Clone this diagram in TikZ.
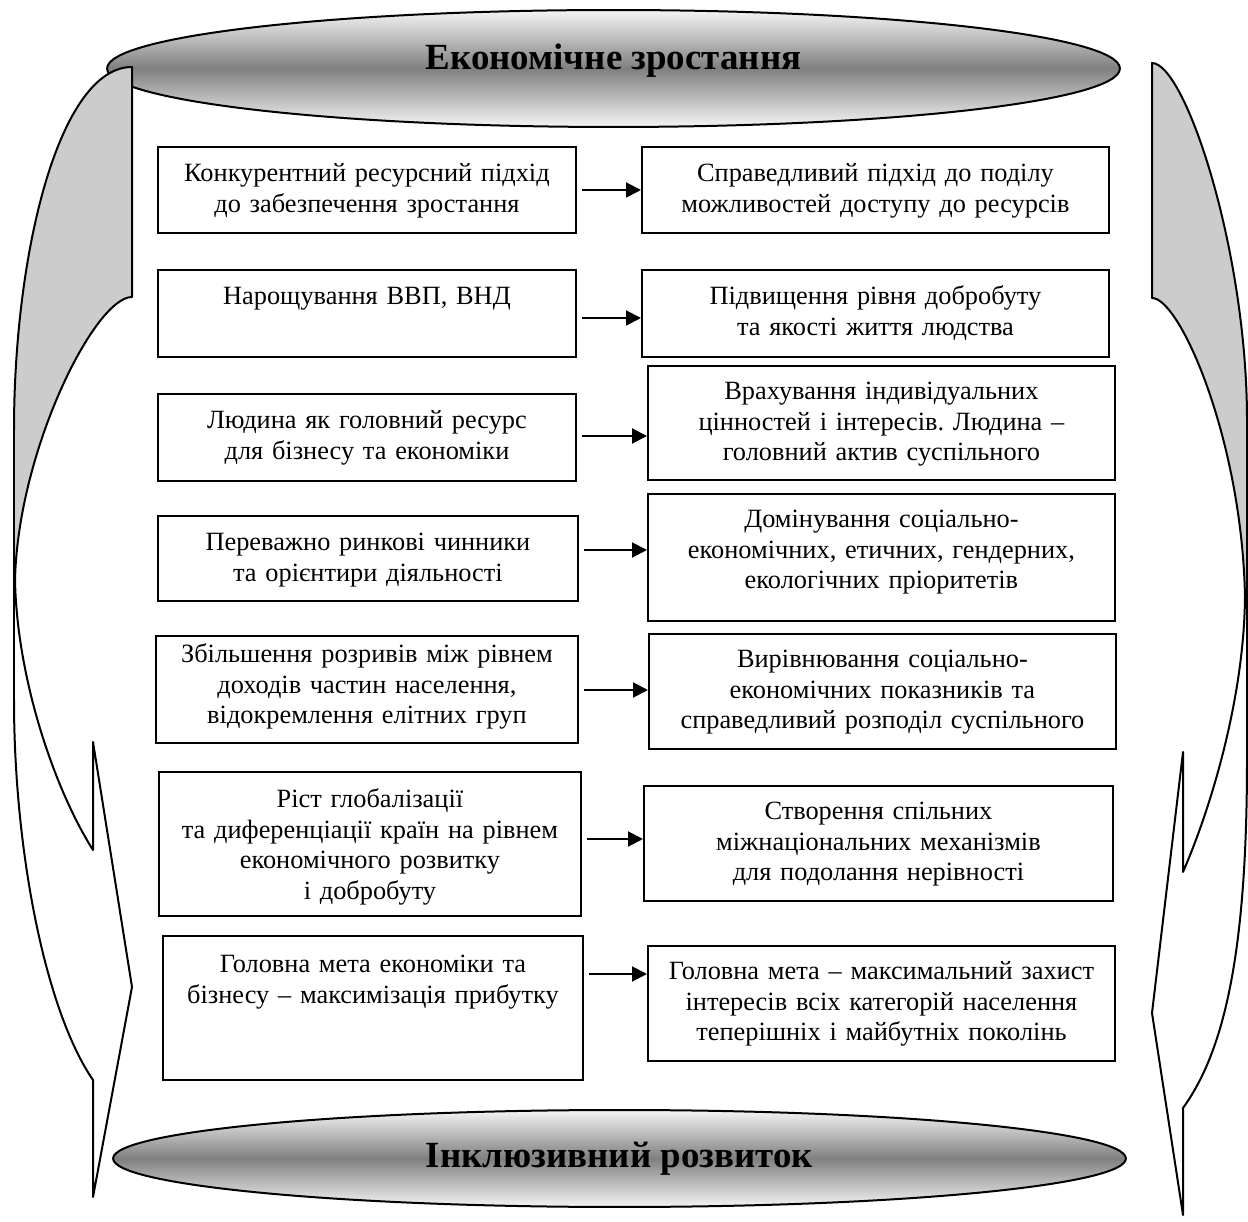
\documentclass[tikz,border=0pt]{standalone}
\usepackage{fontspec}
\setmainfont{Liberation Serif}
\usetikzlibrary{shapes.geometric,arrows.meta}
\frenchspacing

\begin{document}
\begin{tikzpicture}[
        x=0.02cm, y=0.02cm,
        box/.style={draw, line width=0.04cm, inner sep=0pt, align=center, anchor=north west, text height=0.7cm, font=\fontsize{15}{17.3}\selectfont},
        oval/.style={ellipse, draw, line width=0.04cm, inner sep=0pt, minimum width=20.26cm, top color=white!96!black, bottom color=white!96!black, middle color=black!50, text height=0.52cm, font=\fontsize{21}{24}\selectfont\bfseries},
        arr/.style={line width=0.04cm, -{Triangle[length=0.3cm, width=0.3cm]}, shorten <=3pt},
        side/.style={line width=0.04cm, line join=round}
    ]
    \useasboundingbox (0,0) rectangle (1248,-1222);

    % Ovals
    \node[oval, minimum height=2.34cm, text depth=0.46cm] (growth) at (613.5,-68.5) {Економічне зростання};
    \node[oval, minimum height=1.94cm, text depth=0.17cm] (inclusive) at (619.5,-1158.5) {Інклюзивний розвиток};

    % Left curved arrow
    \fill[black!20] (132,-67) -- (132,-297) .. controls (95,-297) and (18,-450) .. (15,-580) -- (14,-580) -- (14,-430) .. controls (14,-250) and (60,-67) .. (132,-67) -- cycle;
    \draw[side] (132,-67) -- (132,-297) .. controls (95,-297) and (18,-450) .. (15,-580) .. controls (17,-680) and (55,-790) .. (93,-850) -- (93,-742) -- (132,-987) -- (93,-1197) -- (93,-1080) .. controls (45,-1010) and (14,-850) .. (14,-700) -- (14,-430) .. controls (14,-250) and (60,-67) .. (132,-67) -- cycle;

    % Right curved arrow
    \fill[black!20] (1152,-63) -- (1152,-298) .. controls (1180,-298) and (1242,-440) .. (1245,-597) -- (1247,-597) -- (1247,-420) .. controls (1247,-250) and (1185,-63) .. (1152,-63) -- cycle;
    \draw[side] (1152,-63) -- (1152,-298) .. controls (1180,-298) and (1242,-440) .. (1245,-597) .. controls (1244,-700) and (1210,-810) .. (1183,-872) -- (1183,-752) -- (1152,-1013) -- (1183,-1215) -- (1183,-1108) .. controls (1225,-1050) and (1247,-950) .. (1247,-760) -- (1247,-420) .. controls (1247,-250) and (1185,-63) .. (1152,-63) -- cycle;

    % Left column
    \node[box, text width=8.36cm, text depth=1.02cm] (l1) at (157,-146) {Конкурентний ресурсний підхід\\до забезпечення зростання};
    \node[box, text width=8.36cm, text depth=1.04cm] (l2) at (157,-269) {Нарощування ВВП, ВНД};
    \node[box, text width=8.36cm, text depth=1.04cm] (l3) at (157,-393) {Людина як головний ресурс\\для бізнесу та економіки};
    \node[box, text width=8.40cm, text depth=1.00cm] (l4) at (157,-515) {Переважно ринкові чинники\\та орієнтири діяльності};
    \node[box, text width=8.44cm, text height=0.54cm, text depth=1.60cm] (l5) at (155,-635) {Збільшення розривів між рівнем\\доходів частин населення,\\відокремлення елітних груп};
    \node[box, text width=8.44cm, text height=0.72cm, text depth=2.16cm] (l6) at (158,-771) {Ріст глобалізації\\та диференціації країн на рівнем\\економічного розвитку\\і добробуту};
    \node[box, text width=8.40cm, text height=0.74cm, text depth=2.14cm] (l7) at (162,-935) {Головна мета економіки та\\бізнесу – максимізація прибутку};

    % Right column
    \node[box, text width=9.34cm, text depth=1.02cm] (r1) at (641,-146) {Справедливий підхід до поділу\\можливостей доступу до ресурсів};
    \node[box, text width=9.34cm, text depth=1.04cm] (r2) at (641,-269) {Підвищення рівня добробуту\\та якості життя людства};
    \node[box, text width=9.34cm, text height=0.68cm, text depth=1.60cm] (r3) at (647,-365) {Врахування індивідуальних\\цінностей і інтересів. Людина –\\головний актив суспільного};
    \node[box, text width=9.34cm, text height=0.68cm, text depth=1.86cm] (r4) at (647,-493) {Домінування соціально-\\економічних, етичних, гендерних,\\екологічних пріоритетів};
    \node[box, text width=9.34cm, text height=0.68cm, text depth=1.62cm] (r5) at (648,-633) {Вирівнювання соціально-\\економічних показників та\\справедливий розподіл суспільного};
    \node[box, text width=9.38cm, text height=0.68cm, text depth=1.62cm] (r6) at (643,-785) {Створення спільних\\міжнаціональних механізмів\\для подолання нерівності};
    \node[box, text width=9.34cm, text height=0.68cm, text depth=1.62cm] (r7) at (647,-945) {Головна мета – максимальний захист\\інтересів всіх категорій населення\\теперішніх і майбутніх поколінь};

    % Arrows
    \draw[arr] (l1.east) -- (r1.west);
    \draw[arr] (l2.east |- 0,-318) -- (r2.west |- 0,-318);
    \draw[arr] (l3.east |- 0,-436) -- (r3.west |- 0,-436);
    \draw[arr] (l4.east |- 0,-550) -- (r4.west |- 0,-550);
    \draw[arr] (l5.east |- 0,-690) -- (r5.west |- 0,-690);
    \draw[arr] (l6.east |- 0,-839) -- (r6.west |- 0,-839);
    \draw[arr] (l7.east |- 0,-974) -- (r7.west |- 0,-974);

\end{tikzpicture}
\end{document}
